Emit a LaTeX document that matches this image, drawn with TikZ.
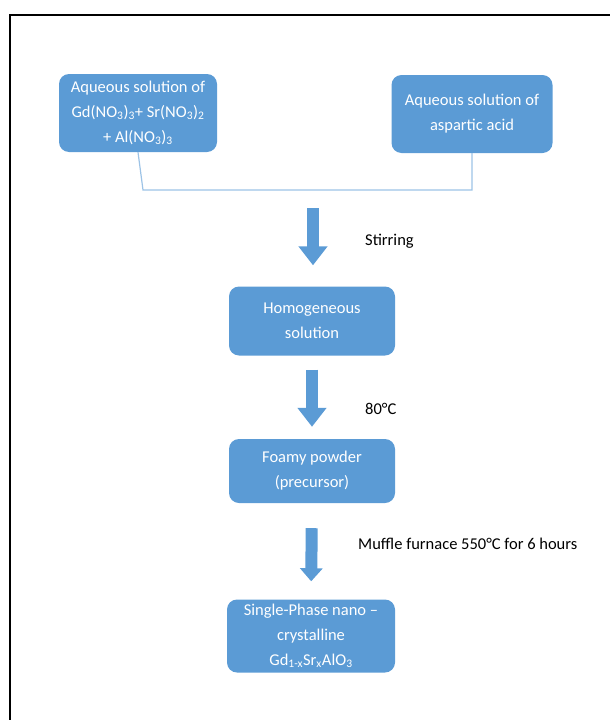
\documentclass[tikz,border=0pt]{standalone}
\usepackage{fontspec}
\setmainfont{Carlito}
\usetikzlibrary{arrows.meta}
\definecolor{boxblue}{HTML}{5B9BD5}
\definecolor{lineblue}{HTML}{9DC3E6}
\tikzset{
    stepbox/.style={fill=boxblue, rounded corners=10pt, text=white, align=center, inner sep=0pt,
        font=\fontsize{16.5}{25}\selectfont},
    steplabel/.style={anchor=west, inner sep=0pt, font=\fontsize{16.5}{20}\selectfont},
    blockarrow/.style={draw=boxblue, line width=12pt, -{Triangle[width=28pt,length=19pt]}}
}
\begin{document}
\begin{tikzpicture}[x=1pt, y=-1pt]
        \useasboundingbox (0,0) rectangle (610,720);
        \draw[line width=2.5pt] (10,720) -- (10,15) -- (610,15);
        \node[stepbox, minimum width=158pt, minimum height=78pt] (nitrates) at (138,113)
            {Aqueous solution of\\Gd(NO\textsubscript{3})\textsubscript{3}+ Sr(NO\textsubscript{3})\textsubscript{2}\\+ Al(NO\textsubscript{3})\textsubscript{3}};
        \node[stepbox, minimum width=161pt, minimum height=78pt] (aspartic) at (472,114) {Aqueous solution of\\aspartic acid};
        \node[stepbox, minimum width=166pt, minimum height=69pt] (homog) at (312,321) {Homogeneous\\solution};
        \node[stepbox, minimum width=166pt, minimum height=64pt] (foamy) at (312,471) {Foamy powder\\(precursor)};
        \node[stepbox, minimum width=168pt, minimum height=73pt] (single) at (311,636)
            {Single-Phase nano \textendash\\crystalline\\Gd\textsubscript{1-x}Sr\textsubscript{x}AlO\textsubscript{3}};
        \coordinate (joinL) at (143,190);
        \coordinate (join) at (313,190);
        \draw[lineblue, line width=1.2pt] (nitrates.south) -- (joinL) -| (aspartic.south);
        \draw[blockarrow, shorten <=18pt, shorten >=21pt] (join) -- (join |- homog.north);
        \draw[blockarrow, shorten <=14pt, shorten >=12pt] (homog.south) -- (foamy.north);
        \draw[blockarrow, -{Triangle[width=22pt,length=13pt]}, shorten <=25pt, shorten >=18pt] (foamy.south) -- (single.north);
        \node[steplabel] (stirring) at (365,241) {Stirring};
        \node[steplabel] (drying) at (365,409) {80°C};
        \node[steplabel] (furnace) at (358,544) {Muffle furnace 550°C for 6 hours};
    \end{tikzpicture}
\end{document}
